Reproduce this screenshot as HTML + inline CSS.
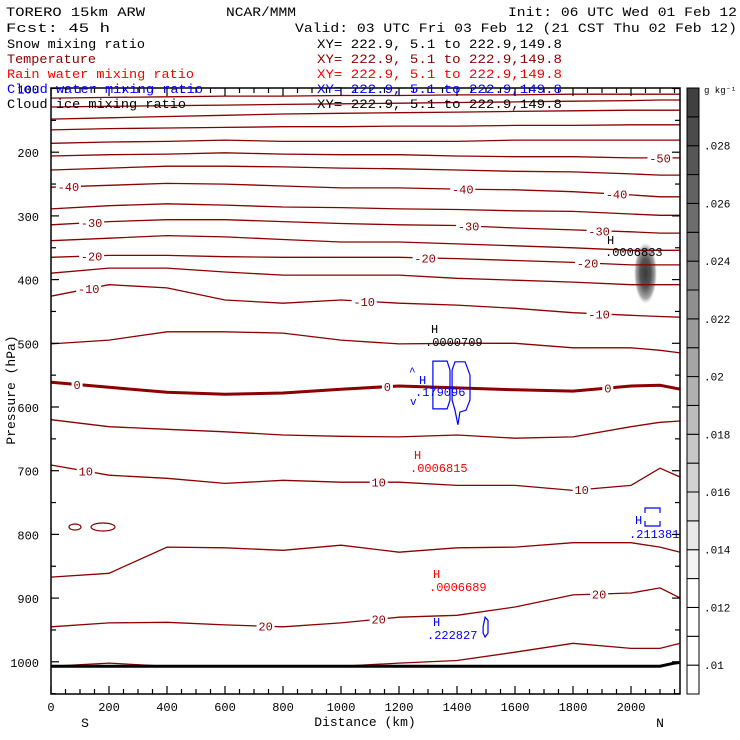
<!DOCTYPE html>
<html><head><meta charset="utf-8"><style>
html,body{margin:0;padding:0;background:#fff;}
svg{display:block;font-family:"Liberation Mono","DejaVu Sans Mono",monospace;}
</style></head><body>
<svg id="chart" width="740" height="740" viewBox="0 0 740 740" xmlns="http://www.w3.org/2000/svg">
<defs>
<radialGradient id="snowGrad" cx="0.5" cy="0.5" r="0.5">
<stop offset="0" stop-color="#3a3a3a"/><stop offset="0.45" stop-color="#555"/><stop offset="0.8" stop-color="#aaa"/><stop offset="1" stop-color="#fff" stop-opacity="0"/>
</radialGradient>
</defs>
<g id="plot"></g>
<g id="hdr" font-size="13">
<text x="6" y="16" textLength="139" lengthAdjust="spacingAndGlyphs">TORERO  15km ARW</text>
<text x="226" y="16" textLength="70" lengthAdjust="spacingAndGlyphs">NCAR/MMM</text>
<text x="508" y="16" textLength="229" lengthAdjust="spacingAndGlyphs">Init: 06 UTC Wed 01 Feb 12</text>
<text x="6" y="32" textLength="104" lengthAdjust="spacingAndGlyphs">Fcst:   45 h</text>
<text x="295" y="32" textLength="442" lengthAdjust="spacingAndGlyphs">Valid: 03 UTC Fri 03 Feb 12 (21 CST Thu 02 Feb 12)</text>
<text x="7" y="48" fill="#000" textLength="138" lengthAdjust="spacingAndGlyphs">Snow mixing ratio</text>
<text x="317" y="48" fill="#000" textLength="245" lengthAdjust="spacingAndGlyphs">XY= 222.9,  5.1 to 222.9,149.8</text>
<text x="7" y="63" fill="#8b0000" textLength="89" lengthAdjust="spacingAndGlyphs">Temperature</text>
<text x="317" y="63" fill="#8b0000" textLength="245" lengthAdjust="spacingAndGlyphs">XY= 222.9,  5.1 to 222.9,149.8</text>
<text x="7" y="78" fill="#ff0000" textLength="187" lengthAdjust="spacingAndGlyphs">Rain water mixing ratio</text>
<text x="317" y="78" fill="#ff0000" textLength="245" lengthAdjust="spacingAndGlyphs">XY= 222.9,  5.1 to 222.9,149.8</text>
<text x="7" y="93" fill="#0000ff" textLength="196" lengthAdjust="spacingAndGlyphs">Cloud water mixing ratio</text>
<text x="317" y="93" fill="#0000ff" textLength="245" lengthAdjust="spacingAndGlyphs">XY= 222.9,  5.1 to 222.9,149.8</text>
<text x="7" y="108" fill="#000" textLength="179" lengthAdjust="spacingAndGlyphs">Cloud ice mixing ratio</text>
<text x="317" y="108" fill="#000" textLength="245" lengthAdjust="spacingAndGlyphs">XY= 222.9,  5.1 to 222.9,149.8</text>
</g>
<g id="cbar"></g>
</svg>
<script>
// ---- data ----
const distNodes = [0,200,400,600,800,1000,1200,1400,1600,1800,2000,2100,2170];
const isoTemps = [-75,-70,-65,-60,-55,-50,-45,-40,-35,-30,-25,-20,-15,-10,-5,0,5,10,15,20,25];
const isoM75 = [115,114,113,112,112,111,111,110,110,109,109,109,109];
const isoM70 = [129,128,127,126,125,124,123,122,121,120,119,118,118];
const isoM65 = [148,146,144,142,140,139,138,137,136,135,134,134,134];
const isoM60 = [165,163,162,161,160,160,159,159,158,158,157,157,157];
const isoM55 = [186,184,183,181,183,183,183,183,181,181,181,181,181];
const isoM50 = [206,204,203,201,203,204,204,206,207,207,209,209,209];
const isoM45 = [228,225,222,222,223,225,226,228,230,231,234,236,236];
const isoM40 = [255,252,249,250,253,256,256,258,259,262,267,270,270];
const isoM35 = [289,284,281,283,286,287,289,290,292,293,297,299,299];
const isoM30 = [314,309,306,306,309,312,314,315,319,322,325,327,327];
const isoM25 = [339,335,331,333,337,341,341,344,347,350,354,354,354];
const isoM20 = [365,362,362,364,365,365,365,367,370,373,377,377,377];
const isoM15 = [390,382,382,388,393,393,393,398,401,404,408,408,408];
const isoM10 = [426,408,413,432,437,432,437,440,445,452,456,458,459];
const isoM5  = [501,495,482,482,484,495,501,500,500,507,507,511,515];
const iso0   = [561,569,577,580,578,572,567,570,573,575,567,566,572];
const iso5   = [620,631,635,639,644,646,647,644,649,647,631,624,622];
const iso10  = [691,707,712,720,715,718,718,723,723,731,723,696,710];
const iso15  = [867,861,820,821,825,817,828,821,820,813,813,820,828];
const iso20  = [945,939,938,942,945,939,930,927,914,895,892,884,900];
const iso25  = [1007,1002,1007,1007,1007,1007,1002,998,985,971,979,979,971];
const isoLabelDist = {"-50":[2100],"-40":[60,1420,1950],"-30":[140,1440,1890],"-20":[140,1290,1850],"-10":[130,1080,1890],"0":[90,1160,1920],"10":[120,1130,1830],"20":[740,1130,1890]};
const groundDist = [0,2100,2150,2170];
const groundP = [1007,1007,1002,1001];
const cloudWater1D = [1317,1366,1376,1376,1366,1317];
const cloudWater1P = [528,528,542,589,603,603];
const cloudWater2D = [1383,1393,1428,1445,1445,1431,1410,1403,1393,1383];
const cloudWater2P = [542,529,529,550,589,605,608,628,605,589];
const cloudWater3D = [1490,1497,1507,1507,1497,1490];
const cloudWater3P = [945,930,935,955,961,955];
const cbarLevels = [0.009,0.010,0.011,0.012,0.013,0.014,0.015,0.016,0.017,0.018,0.019,0.020,0.021,0.022,0.023,0.024,0.025,0.026,0.027,0.028,0.029,0.030];
const cbarTicks = [0.01,0.012,0.014,0.016,0.018,0.02,0.022,0.024,0.026,0.028];
const cbarTickText = [".01",".012",".014",".016",".018",".02",".022",".024",".026",".028"];
const pTicks = [100,200,300,400,500,600,700,800,900,1000];
const xTicks = [0,200,400,600,800,1000,1200,1400,1600,1800,2000];

// ---- scales ----
const X0=51, X1=680, Y0=88, Y1=694;
const xs = d => X0 + d*0.29;
const ys = p => 88.5 + (p-100)*0.637;
const NS='http://www.w3.org/2000/svg';
function mk(tag, attrs, parent){const e=document.createElementNS(NS,tag);for(const k in attrs)e.setAttribute(k,attrs[k]);parent.appendChild(e);return e;}
const plot=document.getElementById('plot');
const cbar=document.getElementById('cbar');
const isoData=[isoM75,isoM70,isoM65,isoM60,isoM55,isoM50,isoM45,isoM40,isoM35,isoM30,isoM25,isoM20,isoM15,isoM10,isoM5,iso0,iso5,iso10,iso15,iso20,iso25];

function interpP(arr,d){for(let i=0;i<distNodes.length-1;i++){if(d>=distNodes[i]&&d<=distNodes[i+1]){const t=(d-distNodes[i])/(distNodes[i+1]-distNodes[i]);return arr[i]+t*(arr[i+1]-arr[i]);}}return arr[arr.length-1];}

// snow shading
const snow=mk('ellipse',{cx:xs(2050),cy:ys(390),rx:12,ry:32,fill:'url(#snowGrad)'},plot);



// isotherms
isoData.forEach((arr,i)=>{
  const T=isoTemps[i];
  const pts=distNodes.map((d,j)=>xs(d).toFixed(1)+','+ys(arr[j]).toFixed(1)).join(' ');
  const pl=mk('polyline',{points:pts,fill:'none',stroke:'#8b0000','stroke-width':T===0?3:1.3},plot);
  
  
  const lab=isoLabelDist[String(T)];
  if(lab){lab.forEach(d=>{
    const x=xs(d), y=ys(interpP(arr,d));
    const txt=String(T);
    const w=txt.length*7+4;
    const r=mk('rect',{x:x-w/2,y:y-6,width:w,height:12,fill:'#fff'},plot);
    
    
    const t=mk('text',{x:x,y:y+4.5,'text-anchor':'middle','font-size':12,fill:'#8b0000'},plot);
    t.textContent=txt;
    
    
  });}
});

// small temperature loops
[[75,527,6,3],[103,527,12,4]].forEach(a=>{
  const e=mk('ellipse',{cx:a[0],cy:a[1],rx:a[2],ry:a[3],fill:'none',stroke:'#8b0000','stroke-width':1.2},plot);
  
  
});

// ground
const gpts=groundDist.map((d,j)=>xs(d)+','+ys(groundP[j])).join(' ');
const gl=mk('polyline',{points:gpts,fill:'none',stroke:'#000','stroke-width':3},plot);



// cloud water
[[cloudWater1D,cloudWater1P],[cloudWater2D,cloudWater2P],[cloudWater3D,cloudWater3P]].forEach((c,i)=>{
  const pts=c[0].map((d,j)=>xs(d).toFixed(1)+','+ys(c[1][j]).toFixed(1)).join(' ');
  const pg=mk('polygon',{points:pts,fill:'none',stroke:'#0000ff','stroke-width':1.2},plot);
  
  
});
const br=mk('path',{d:'M645 513 V508 H660 V513 M645 521 V526 H660 V521',fill:'none',stroke:'#0000ff','stroke-width':1.2},plot);


const caret=mk('text',{x:409,y:375,'font-size':11,fill:'#0000ff'},plot);caret.textContent='^';


const vee=mk('text',{x:410,y:405,'font-size':11,fill:'#0000ff'},plot);vee.textContent='v';



// H labels
const hl=[[431,333,'#000','H'],[425,346,'#000','.0000709'],[419,384,'#0000ff','H'],[415,396,'#0000ff','.179096'],[414,459,'#ff0000','H'],[410,472,'#ff0000','.0006815'],[433,578,'#ff0000','H'],[429,591,'#ff0000','.0006689'],[433,626,'#0000ff','H'],[427,639,'#0000ff','.222827'],[635,524,'#0000ff','H'],[629,538,'#0000ff','.211381'],[607,244,'#000','H'],[605,256,'#000','.0006833']];
hl.forEach(h=>{const t=mk('text',{x:h[0],y:h[1],'font-size':12,fill:h[2]},plot);t.textContent=h[3];
  
  });

// frame
const fr=mk('rect',{x:X0,y:Y0,width:X1-X0,height:Y1-Y0,fill:'none',stroke:'#000','stroke-width':1.5},plot);



// y ticks
for(let p=100;p<=1050;p+=50){
  const major=(p%100===0), y=ys(p), L=major?8:5;
  const t1=mk('line',{x1:X0,x2:X0+L,y1:y,y2:y,stroke:'#000','stroke-width':1.2},plot);
  
  
  const t2=mk('line',{x1:X1,x2:X1-L,y1:y,y2:y,stroke:'#000','stroke-width':1.2},plot);
  
  
}
pTicks.forEach(p=>{const t=mk('text',{x:39,y:ys(p)+5,'text-anchor':'end','font-size':12},plot);t.textContent=p;
  
  });
// x ticks
for(let d=0;d<=2150;d+=50){
  const major=(d%200===0), x=xs(d), L=major?8:5;
  const a=mk('line',{x1:x,x2:x,y1:Y1,y2:Y1-L,stroke:'#000','stroke-width':1.2},plot);
  
  
  const b=mk('line',{x1:x,x2:x,y1:Y0,y2:Y0+L,stroke:'#000','stroke-width':1.2},plot);
  
  
}
xTicks.forEach(d=>{const t=mk('text',{x:xs(d),y:711,'text-anchor':'middle','font-size':12},plot);t.textContent=d;
  
  });
const sl=mk('text',{x:85,y:727,'text-anchor':'middle','font-size':13},plot);sl.textContent='S';


const nl=mk('text',{x:660,y:727,'text-anchor':'middle','font-size':13},plot);nl.textContent='N';


const xt=mk('text',{x:365,y:726,'text-anchor':'middle','font-size':13},plot);xt.textContent='Distance (km)';


const yt=mk('text',{x:0,y:0,'text-anchor':'middle','font-size':13,transform:'translate(15,390) rotate(-90)'},plot);yt.textContent='Pressure (hPa)';



// colorbar
const cy=v=>694-(v-0.009)*(606/0.021);
for(let i=0;i<cbarLevels.length-1;i++){
  const lo=cbarLevels[i], hi=cbarLevels[i+1];
  const f=Math.max(0,(i-3)/17);
  const g=Math.round(255-f*(255-0x40));
  const r=mk('rect',{x:687,y:cy(hi),width:12,height:cy(lo)-cy(hi),fill:`rgb(${g},${g},${g})`,stroke:'#000','stroke-width':1},cbar);
  
  
}
cbarTicks.forEach((v,i)=>{const t=mk('text',{x:704,y:cy(v)+4,'font-size':11},cbar);t.textContent=cbarTickText[i];
  
  });
const unit=mk('text',{x:704,y:93,'font-size':9},cbar);unit.textContent='g kg⁻¹';


</script>
</body></html>
